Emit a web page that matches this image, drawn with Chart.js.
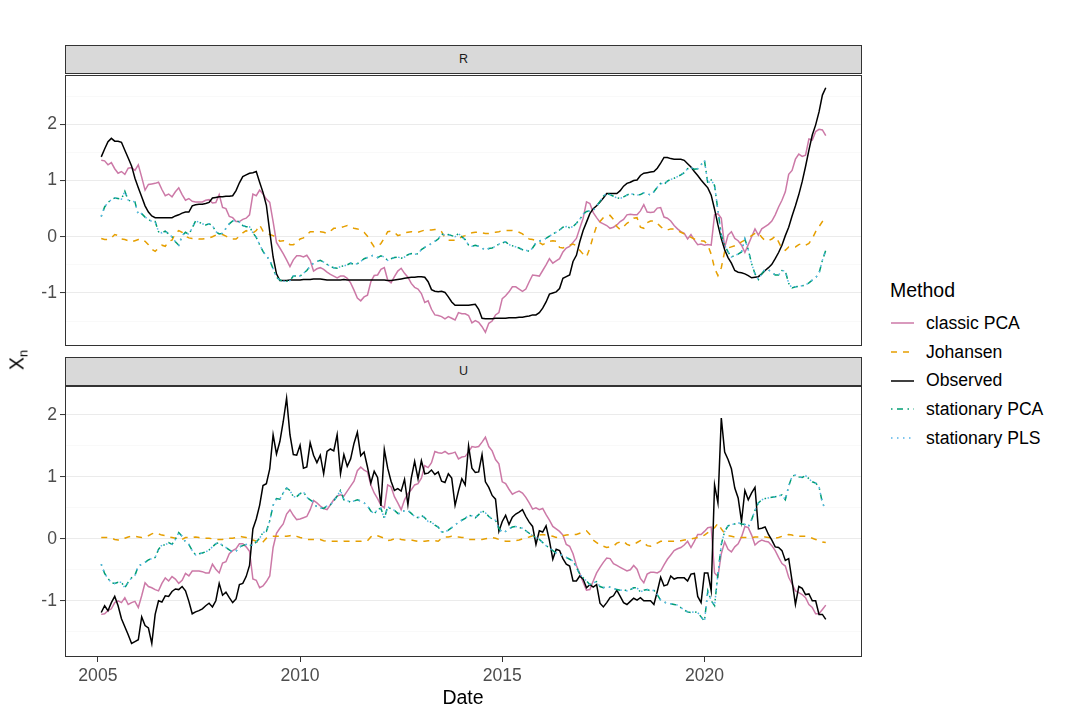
<!DOCTYPE html>
<html>
<head>
<meta charset="utf-8">
<script src="https://cdn.jsdelivr.net/npm/chart.js@4.4.1/dist/chart.umd.min.js"></script>
<style>
  body { margin: 0; width: 1080px; height: 720px; overflow: hidden; position: relative; background: #fff;
         font-family: "Liberation Sans", Arial, sans-serif; }
  .strip { position: absolute; left: 65px; width: 797px; height: 29px; box-sizing: border-box;
           background: #d9d9d9; border: 1px solid #333; color: #1a1a1a; font-size: 12.5px;
           text-align: center; line-height: 27px; }
  .panel { position: absolute; left: 0; }
  #ytitle { position: absolute; left: 18px; top: 360px; font-size: 19.5px; color: #000;
            transform: translate(-50%, -50%) rotate(-90deg); white-space: nowrap; }
  #ytitle sub { font-size: 13px; vertical-align: -4px; }
  #xtitle { position: absolute; left: 463px; top: 686px; transform: translateX(-50%); font-size: 19.5px; color: #000; }
  #legend { position: absolute; left: 890px; top: 279px; }
  #legend .ltitle { font-size: 19.5px; height: 30px; line-height: 22px; }
  #legend .item { height: 28.7px; line-height: 28.7px; font-size: 17.6px; white-space: nowrap; }
  #legend svg { vertical-align: middle; margin-right: 12px; position: relative; top: -1px; }
</style>
</head>
<body>
<div class="strip" style="top:45px">R</div>
<div class="strip" style="top:357px">U</div>
<div class="panel" style="top:70px"><canvas id="chartR" width="870" height="281"></canvas></div>
<div class="panel" style="top:381px"><canvas id="chartU" width="870" height="320"></canvas></div>
<div id="ytitle">X<sub>n</sub></div>
<div id="xtitle">Date</div>
<div id="legend"><div class="ltitle">Method</div></div>
<script>
// ===== DATA (monthly, Feb 2005 .. Jan 2023) =====
const months = Array.from({ length: 216 }, (_, i) => 2005 + (i + 1) / 12);
const yearTicks = [2005, 2010, 2015, 2020];
const valueTicks = [-1.5, -1, -0.5, 0, 0.5, 1, 1.5, 2, 2.5];

const methods = ["classic PCA", "Johansen", "Observed", "stationary PCA", "stationary PLS"];

// panel R
const observedR = [
  1.42,1.56,1.69,1.75,1.70,1.70,1.68,1.54,1.40,1.26,1.04,0.87,
  0.71,0.55,0.44,0.37,0.34,0.34,0.34,0.34,0.34,0.34,0.37,0.39,
  0.42,0.44,0.44,0.55,0.57,0.58,0.58,0.59,0.61,0.69,0.70,0.71,
  0.71,0.72,0.72,0.73,0.82,0.96,1.07,1.10,1.13,1.14,1.16,0.97,
  0.79,0.56,0.09,-0.36,-0.66,-0.78,-0.78,-0.78,-0.77,-0.77,-0.77,-0.77,
  -0.76,-0.76,-0.76,-0.75,-0.75,-0.75,-0.76,-0.77,-0.77,-0.77,-0.77,-0.77,
  -0.76,-0.77,-0.77,-0.77,-0.77,-0.77,-0.77,-0.77,-0.77,-0.77,-0.77,-0.77,
  -0.77,-0.78,-0.78,-0.77,-0.76,-0.75,-0.74,-0.73,-0.72,-0.72,-0.71,-0.71,
  -0.72,-0.80,-0.94,-0.97,-0.98,-0.97,-0.99,-1.07,-1.16,-1.22,-1.22,-1.22,
  -1.22,-1.22,-1.21,-1.20,-1.29,-1.45,-1.46,-1.46,-1.46,-1.45,-1.45,-1.45,
  -1.45,-1.44,-1.44,-1.44,-1.43,-1.43,-1.42,-1.41,-1.39,-1.39,-1.35,-1.27,
  -1.16,-1.02,-1.00,-0.98,-0.92,-0.74,-0.71,-0.68,-0.44,-0.33,-0.09,0.11,
  0.26,0.41,0.50,0.55,0.62,0.69,0.77,0.77,0.77,0.77,0.82,0.90,
  0.95,0.97,1.00,1.01,1.09,1.13,1.14,1.15,1.16,1.22,1.31,1.41,
  1.41,1.39,1.38,1.38,1.38,1.36,1.30,1.24,1.16,1.09,1.01,0.94,
  0.87,0.74,0.49,0.21,-0.03,-0.23,-0.37,-0.47,-0.60,-0.63,-0.64,-0.66,
  -0.69,-0.73,-0.72,-0.71,-0.66,-0.60,-0.55,-0.49,-0.39,-0.28,-0.15,0.02,
  0.17,0.37,0.55,0.75,0.98,1.25,1.54,1.81,1.99,2.22,2.52,2.65
];
const classicPcaR = [
  1.36,1.35,1.28,1.32,1.21,1.13,1.16,1.11,1.22,1.23,1.18,1.28,
  1.06,0.83,0.93,0.94,0.95,0.97,0.84,0.73,0.76,0.71,0.80,0.87,
  0.75,0.65,0.68,0.63,0.62,0.62,0.62,0.65,0.66,0.60,0.61,0.75,
  0.52,0.50,0.36,0.34,0.27,0.27,0.31,0.33,0.39,0.76,0.73,0.83,
  0.76,0.67,0.61,0.27,-0.10,-0.20,-0.30,-0.41,-0.53,-0.41,-0.34,-0.34,
  -0.36,-0.33,-0.42,-0.61,-0.57,-0.55,-0.58,-0.63,-0.67,-0.70,-0.73,-0.70,
  -0.70,-0.74,-0.82,-0.95,-1.09,-1.14,-1.07,-1.04,-0.80,-0.69,-0.68,-0.58,
  -0.55,-0.77,-0.82,-0.71,-0.61,-0.56,-0.65,-0.72,-0.83,-0.90,-0.93,-1.01,
  -1.17,-1.14,-1.29,-1.39,-1.40,-1.42,-1.46,-1.42,-1.45,-1.48,-1.35,-1.37,
  -1.37,-1.40,-1.53,-1.49,-1.52,-1.60,-1.70,-1.54,-1.50,-1.39,-1.35,-1.10,
  -1.05,-0.98,-0.89,-0.89,-0.93,-0.97,-0.93,-0.80,-0.68,-0.69,-0.70,-0.60,
  -0.50,-0.39,-0.47,-0.43,-0.39,-0.27,-0.20,-0.17,-0.10,-0.03,0.15,0.33,
  0.62,0.59,0.43,0.34,0.26,0.23,0.20,0.15,0.17,0.21,0.27,0.31,
  0.39,0.40,0.39,0.39,0.46,0.57,0.44,0.43,0.44,0.51,0.52,0.35,
  0.33,0.28,0.20,0.14,0.09,0.06,-0.04,0.04,-0.06,-0.14,-0.13,-0.15,
  -0.14,-0.15,0.39,0.41,0.33,-0.19,0.03,0.09,-0.03,-0.07,-0.15,-0.28,
  -0.14,0.00,0.14,0.03,0.14,0.18,0.22,0.28,0.39,0.53,0.65,0.80,
  1.11,1.18,1.38,1.47,1.43,1.45,1.74,1.72,1.87,1.91,1.90,1.80
];
const johansenR = [
  -0.03,-0.05,-0.05,-0.02,0.04,0.02,-0.04,-0.05,-0.07,-0.09,-0.07,-0.05,
  -0.04,-0.08,-0.14,-0.22,-0.26,-0.20,-0.15,-0.17,-0.08,-0.06,0.06,0.11,
  0.08,0.01,-0.02,-0.03,-0.03,-0.04,-0.04,-0.03,-0.02,0.00,0.03,0.04,
  0.04,0.01,-0.02,-0.04,-0.04,0.01,0.07,0.11,0.07,0.07,0.11,0.21,
  0.10,0.08,0.04,0.02,-0.01,-0.08,-0.07,-0.08,-0.14,-0.14,-0.11,-0.04,
  -0.02,0.03,0.09,0.09,0.09,0.09,0.08,0.06,0.10,0.15,0.15,0.16,
  0.18,0.20,0.17,0.15,0.14,0.12,0.08,0.01,-0.09,-0.18,-0.17,-0.12,
  -0.02,0.09,0.10,0.08,0.02,0.04,0.07,0.08,0.09,0.08,0.08,0.10,
  0.12,0.12,0.12,0.13,0.13,0.09,-0.02,-0.06,-0.06,-0.06,-0.04,0.00,
  0.02,0.05,0.07,0.08,0.08,0.07,0.06,0.06,0.07,0.08,0.09,0.11,
  0.11,0.11,0.11,0.09,0.08,0.05,0.00,-0.04,-0.05,-0.07,-0.10,-0.14,
  -0.11,-0.08,-0.07,-0.08,-0.19,-0.20,-0.18,-0.15,-0.13,-0.16,-0.24,-0.31,
  -0.36,-0.20,0.01,0.19,0.27,0.34,0.37,0.38,0.31,0.18,0.13,0.18,
  0.24,0.28,0.33,0.34,0.17,0.15,0.25,0.28,0.28,0.24,0.18,0.13,
  0.12,0.14,0.14,0.11,0.08,0.05,0.02,-0.01,-0.04,-0.05,-0.07,-0.08,
  -0.15,-0.31,-0.56,-0.69,-0.55,-0.26,-0.20,-0.18,-0.16,-0.13,-0.09,-0.06,
  -0.02,0.02,0.06,0.07,-0.01,-0.07,-0.07,-0.04,0.01,-0.09,-0.21,-0.24,
  -0.18,-0.18,-0.18,-0.14,-0.12,-0.15,-0.12,-0.03,0.09,0.18,0.27,0.31
];
const stationaryPcaR = [
  0.36,0.53,0.61,0.66,0.69,0.68,0.67,0.81,0.65,0.63,0.62,0.39,
  0.41,0.35,0.31,0.27,0.27,0.09,0.07,0.10,0.05,0.00,-0.09,-0.15,
  0.02,0.08,0.04,0.16,0.28,0.26,0.23,0.21,0.23,0.20,0.09,0.05,
  0.06,0.15,0.23,0.28,0.29,0.26,0.20,0.18,0.18,0.07,-0.01,-0.14,
  -0.26,-0.34,-0.42,-0.57,-0.72,-0.77,-0.79,-0.79,-0.78,-0.70,-0.70,-0.70,
  -0.65,-0.60,-0.52,-0.47,-0.44,-0.42,-0.45,-0.49,-0.53,-0.55,-0.56,-0.53,
  -0.52,-0.50,-0.47,-0.49,-0.48,-0.44,-0.39,-0.37,-0.34,-0.33,-0.37,-0.34,
  -0.36,-0.42,-0.39,-0.37,-0.36,-0.38,-0.36,-0.32,-0.30,-0.31,-0.30,-0.23,
  -0.19,-0.16,-0.12,-0.08,-0.04,0.05,0.03,0.04,0.02,0.00,0.06,0.00,
  -0.05,-0.15,-0.17,-0.15,-0.17,-0.20,-0.24,-0.21,-0.20,-0.17,-0.13,-0.11,
  -0.09,-0.14,-0.16,-0.18,-0.20,-0.23,-0.24,-0.26,-0.20,-0.11,-0.08,-0.05,
  -0.03,0.01,0.05,0.08,0.12,0.17,0.18,0.16,0.18,0.24,0.31,0.40,
  0.45,0.46,0.47,0.54,0.63,0.72,0.77,0.75,0.72,0.69,0.68,0.71,
  0.74,0.77,0.75,0.74,0.75,0.78,0.77,0.74,0.80,0.88,0.95,0.93,
  0.99,1.02,1.04,1.07,1.10,1.14,1.21,1.23,1.20,1.21,1.28,1.36,
  0.95,1.01,0.91,0.47,0.03,-0.15,-0.27,-0.36,-0.33,-0.31,-0.27,-0.04,
  -0.23,-0.48,-0.66,-0.76,-0.66,-0.58,-0.59,-0.63,-0.68,-0.68,-0.60,-0.61,
  -0.83,-0.91,-0.89,-0.88,-0.87,-0.86,-0.82,-0.77,-0.73,-0.65,-0.42,-0.24
];
// the PLS line lies on top of the stationary PCA line in the picture
const stationaryPlsR = stationaryPcaR.slice();

// panel U
const observedU = [
  -1.19,-1.08,-1.16,-1.03,-0.93,-1.08,-1.29,-1.42,-1.55,-1.69,-1.66,-1.63,
  -1.26,-1.40,-1.44,-1.69,-1.22,-1.00,-1.02,-0.92,-0.93,-0.85,-0.81,-0.82,
  -0.77,-0.84,-1.01,-1.21,-1.18,-1.16,-1.13,-1.08,-1.04,-1.10,-1.00,-0.72,
  -0.91,-0.86,-0.95,-1.03,-0.97,-0.74,-0.72,-0.61,-0.43,0.16,0.32,0.54,
  0.86,0.89,1.13,1.68,1.37,1.57,1.89,2.27,1.68,1.36,1.35,1.51,
  1.14,1.16,1.55,1.35,1.23,1.35,1.05,1.41,1.45,1.42,1.68,1.05,
  1.36,1.17,1.29,1.54,1.72,1.34,1.40,1.16,0.90,1.09,0.99,0.53,
  1.44,1.14,0.93,0.78,0.81,0.77,0.96,0.55,0.98,1.25,0.97,1.26,
  1.05,1.06,1.11,1.04,1.08,0.93,0.91,1.05,0.98,0.54,0.77,0.97,
  0.87,1.50,1.14,1.07,1.08,1.36,0.92,0.83,0.70,0.64,0.12,0.28,
  0.38,0.23,0.35,0.40,0.43,0.47,0.36,0.27,0.20,-0.09,0.13,0.11,
  0.21,-0.03,-0.33,-0.17,-0.19,-0.32,-0.41,-0.44,-0.68,-0.68,-0.60,-0.65,
  -0.79,-0.74,-0.78,-0.74,-1.04,-1.10,-1.03,-0.95,-0.92,-0.83,-0.93,-1.03,
  -1.06,-1.01,-0.96,-0.99,-0.95,-1.00,-1.00,-1.00,-1.06,-0.85,-0.62,-0.76,
  -0.74,-0.60,-0.65,-0.63,-0.63,-0.63,-0.68,-0.57,-0.56,-0.93,-1.03,-0.55,
  -0.55,-0.84,0.87,0.58,1.95,1.40,1.28,1.13,0.82,0.66,0.28,0.78,
  0.63,0.74,0.83,0.16,0.17,0.19,0.07,-0.02,-0.13,-0.14,-0.19,-0.35,
  -0.32,-0.68,-1.06,-0.77,-0.80,-0.90,-0.89,-1.00,-1.00,-1.22,-1.22,-1.30
];
const classicPcaU = [
  -1.22,-1.21,-1.16,-1.13,-1.03,-1.00,-1.03,-0.95,-1.06,-1.03,-1.01,-1.11,
  -0.92,-0.71,-0.77,-0.79,-0.82,-0.84,-0.72,-0.63,-0.68,-0.61,-0.65,-0.72,
  -0.67,-0.56,-0.60,-0.52,-0.52,-0.52,-0.53,-0.55,-0.55,-0.41,-0.49,-0.55,
  -0.39,-0.37,-0.24,-0.19,-0.16,-0.08,-0.08,-0.13,-0.20,-0.65,-0.67,-0.79,
  -0.76,-0.69,-0.60,-0.14,0.09,0.17,0.24,0.40,0.47,0.38,0.31,0.32,
  0.34,0.36,0.47,0.62,0.58,0.53,0.49,0.47,0.55,0.63,0.69,0.71,
  0.69,0.77,0.85,0.93,1.10,1.16,1.11,1.08,0.87,0.74,0.65,0.54,
  0.50,0.87,0.84,0.68,0.58,0.47,0.63,0.73,0.79,0.87,0.89,0.98,
  1.18,1.15,1.23,1.41,1.39,1.38,1.41,1.37,1.38,1.40,1.29,1.32,
  1.33,1.40,1.49,1.48,1.49,1.56,1.64,1.49,1.42,1.28,1.21,0.92,
  0.89,0.80,0.72,0.75,0.77,0.74,0.67,0.58,0.48,0.50,0.47,0.49,
  0.39,0.30,0.20,0.16,0.12,0.06,-0.09,-0.12,-0.24,-0.43,-0.56,-0.70,
  -0.83,-0.82,-0.68,-0.55,-0.46,-0.38,-0.31,-0.32,-0.40,-0.43,-0.46,-0.49,
  -0.52,-0.50,-0.43,-0.49,-0.64,-0.71,-0.57,-0.54,-0.54,-0.55,-0.52,-0.42,
  -0.33,-0.26,-0.19,-0.16,-0.14,-0.10,-0.04,-0.14,-0.04,0.07,0.07,0.12,
  0.18,0.19,-0.55,-0.61,-0.24,-0.05,-0.17,-0.21,-0.13,-0.08,0.03,0.20,
  0.18,0.06,-0.10,-0.05,-0.02,-0.04,-0.05,-0.11,-0.19,-0.30,-0.40,-0.44,
  -0.62,-0.73,-0.84,-0.87,-0.90,-0.95,-1.06,-1.11,-1.21,-1.21,-1.14,-1.07
];
const johansenU = [
  0.02,0.02,0.02,0.01,-0.01,-0.02,-0.02,0.01,0.03,0.04,0.04,0.03,
  0.02,0.04,0.05,0.08,0.10,0.08,0.06,0.05,0.03,0.02,0.01,0.00,
  -0.01,0.02,0.02,0.02,0.03,0.02,0.01,0.01,0.01,0.00,-0.01,-0.01,
  -0.01,0.01,0.01,0.01,0.02,0.04,0.03,0.02,-0.01,-0.02,-0.04,-0.08,
  -0.05,0.01,0.03,0.04,0.04,0.04,0.04,0.04,0.05,0.06,0.04,0.02,
  0.01,-0.01,-0.01,-0.01,-0.01,-0.01,-0.03,-0.04,-0.04,-0.04,-0.04,-0.05,
  -0.04,-0.04,-0.04,-0.04,-0.04,-0.04,-0.03,-0.03,0.03,0.06,0.05,0.03,
  0.01,-0.03,-0.02,0.00,0.01,-0.01,-0.02,-0.02,-0.02,-0.03,-0.04,-0.04,
  -0.04,-0.03,-0.03,-0.03,-0.04,0.01,0.03,0.03,0.04,0.03,0.03,0.02,
  0.02,-0.01,-0.01,-0.01,-0.01,-0.01,0.00,0.01,0.02,0.01,-0.01,-0.02,
  -0.04,-0.04,-0.04,-0.03,-0.02,0.00,0.02,0.03,0.05,0.06,0.06,0.07,
  0.06,0.05,0.04,0.02,0.04,0.05,0.06,0.07,0.07,0.07,0.09,0.11,
  0.13,0.07,-0.02,-0.06,-0.10,-0.12,-0.14,-0.13,-0.12,-0.07,-0.05,-0.04,
  -0.09,-0.11,-0.09,-0.06,-0.03,-0.06,-0.11,-0.12,-0.10,-0.07,-0.04,-0.04,
  -0.04,-0.04,-0.04,-0.03,-0.03,-0.02,-0.01,0.00,0.01,0.02,0.03,0.06,
  0.10,0.14,0.18,0.25,0.16,0.09,0.05,0.04,0.03,0.03,0.02,0.02,
  0.02,0.02,0.03,0.03,0.04,0.03,0.02,0.01,0.01,0.02,0.04,0.06,
  0.07,0.06,0.04,0.04,0.04,0.04,0.03,0.01,-0.01,-0.03,-0.05,-0.06
];
const stationaryPcaU = [
  -0.41,-0.56,-0.64,-0.71,-0.72,-0.70,-0.70,-0.79,-0.70,-0.63,-0.59,-0.44,
  -0.41,-0.38,-0.34,-0.32,-0.30,-0.17,-0.10,-0.10,-0.06,-0.09,-0.01,0.10,
  0.04,-0.05,-0.09,-0.19,-0.26,-0.24,-0.23,-0.21,-0.18,-0.13,-0.08,-0.06,
  -0.11,-0.14,-0.18,-0.21,-0.20,-0.13,-0.11,-0.09,-0.11,-0.10,-0.05,0.01,
  0.10,0.12,0.29,0.54,0.65,0.64,0.74,0.82,0.78,0.68,0.68,0.73,
  0.76,0.67,0.63,0.59,0.51,0.50,0.49,0.53,0.55,0.61,0.69,0.78,
  0.63,0.62,0.59,0.61,0.63,0.61,0.58,0.53,0.45,0.40,0.48,0.49,
  0.33,0.52,0.48,0.46,0.41,0.41,0.46,0.46,0.41,0.36,0.34,0.38,
  0.34,0.28,0.27,0.22,0.19,0.11,0.11,0.14,0.18,0.22,0.27,0.30,
  0.33,0.38,0.37,0.34,0.39,0.45,0.42,0.36,0.32,0.30,0.17,0.10,
  0.12,0.16,0.19,0.20,0.18,0.17,0.13,0.09,0.05,0.02,-0.01,-0.06,
  -0.11,-0.15,-0.19,-0.23,-0.25,-0.27,-0.30,-0.33,-0.36,-0.46,-0.57,-0.63,
  -0.68,-0.74,-0.71,-0.69,-0.77,-0.79,-0.77,-0.78,-0.80,-0.82,-0.83,-0.82,
  -0.84,-0.82,-0.79,-0.79,-0.86,-0.83,-0.82,-0.84,-0.83,-0.90,-0.99,-1.02,
  -1.04,-1.05,-1.06,-1.07,-1.11,-1.15,-1.18,-1.19,-1.18,-1.19,-1.26,-1.33,
  -0.84,-1.00,-1.08,-0.57,-0.09,0.12,0.21,0.23,0.24,0.26,0.24,0.23,
  0.19,0.31,0.46,0.58,0.63,0.65,0.66,0.67,0.68,0.69,0.71,0.63,
  0.85,1.01,1.03,1.00,0.99,1.02,0.97,0.92,0.90,0.84,0.58,0.47
];
const stationaryPlsU = stationaryPcaU.slice();

// ===== STYLE =====
const colors = ["#CC79A7", "#E69F00", "#000000", "#009E73", "#56B4E9"];
const dashes = [[], [6, 6], [], [1.5, 4.5, 6, 4.5], [1.5, 4.5]];
const LINE_W = 1.5;
const FONT = '"Liberation Sans", Arial, sans-serif';

// ===== LEGEND =====
const legend = document.getElementById("legend");
methods.forEach((name, k) => {
  const row = document.createElement("div");
  row.className = "item";
  row.innerHTML = `<svg width="24" height="10"><line x1="1" y1="5" x2="24" y2="5" stroke="${colors[k]}"
    stroke-width="${LINE_W}" stroke-dasharray="${dashes[k].join(" ") || "none"}"/></svg>${name}`;
  legend.appendChild(row);
});

// ===== CHARTS =====
function datasets(series) {
  return series.map((vals, k) => ({
    label: methods[k],
    data: vals.map((v, i) => ({ x: months[i], y: v })),
    borderColor: colors[k],
    borderWidth: LINE_W,
    borderDash: dashes[k],
    borderCapStyle: "butt",
    pointRadius: 0,
    tension: 0,
    fill: false,
    order: 5 - k   // later methods drawn on top, as in the original
  }));
}

const panelBorder = {
  id: "panelBorder",
  afterDraw(chart) {
    const { ctx, chartArea: a } = chart;
    ctx.save();
    ctx.strokeStyle = "#333333";
    ctx.lineWidth = 1;
    ctx.strokeRect(Math.round(a.left) + 0.5, Math.round(a.top) + 0.5,
                   Math.round(a.right - a.left) - 1, Math.round(a.bottom - a.top) - 1);
    ctx.restore();
  }
};

function yScale(min, max) {
  return {
    min, max,
    afterFit(s) { s.width = 65; s.paddingTop = 0; s.paddingBottom = 0; },
    afterBuildTicks(s) {
      s.ticks = valueTicks.filter(v => v >= min && v <= max).map(v => ({ value: v }));
    },
    ticks: {
      autoSkip: false,
      padding: 3,
      color: "#4D4D4D",
      font: { family: FONT, size: 17.6 },
      callback: v => (Number.isInteger(v) ? String(v) : "")
    },
    grid: {
      color: c => (Number.isInteger(c.tick.value) ? "#EBEBEB" : "#F5F5F5"),
      lineWidth: c => (Number.isInteger(c.tick.value) ? 1.1 : 0.6),
      tickColor: c => (Number.isInteger(c.tick.value) ? "#333333" : "rgba(0,0,0,0)"),
      tickLength: 5,
      tickWidth: 1
    },
    border: { display: false }
  };
}

function xScale(showAxis) {
  return {
    type: "linear",
    min: 2004.187, max: 2023.896,
    display: showAxis,
    afterFit(s) {
      if (showAxis) s.height = 44;
      s.paddingLeft = 0; s.paddingRight = 0;
    },
    afterBuildTicks(s) { s.ticks = yearTicks.map(v => ({ value: v })); },
    ticks: {
      autoSkip: false,
      maxRotation: 0,
      padding: 4,
      color: "#4D4D4D",
      font: { family: FONT, size: 17.6 },
      callback: v => String(v)
    },
    grid: { drawOnChartArea: false, tickLength: 5, tickColor: "#333333", tickWidth: 1 },
    border: { display: false }
  };
}

function makeChart(id, series, yMin, yMax, showX) {
  return new Chart(document.getElementById(id), {
    type: "line",
    data: { datasets: datasets(series) },
    options: {
      responsive: false,
      animation: false,
      parsing: false,
      normalized: true,
      layout: { padding: { left: 0, right: 8, top: 5, bottom: showX ? 0 : 5 } },
      plugins: { legend: { display: false }, tooltip: { enabled: false } },
      scales: { x: xScale(showX), y: yScale(yMin, yMax) }
    },
    plugins: [panelBorder]
  });
}

makeChart("chartR", [classicPcaR, johansenR, observedR, stationaryPcaR, stationaryPlsR], -1.943, 2.877, false);
makeChart("chartU", [classicPcaU, johansenU, observedU, stationaryPcaU, stationaryPlsU], -1.908, 2.467, true);
</script>
</body>
</html>
